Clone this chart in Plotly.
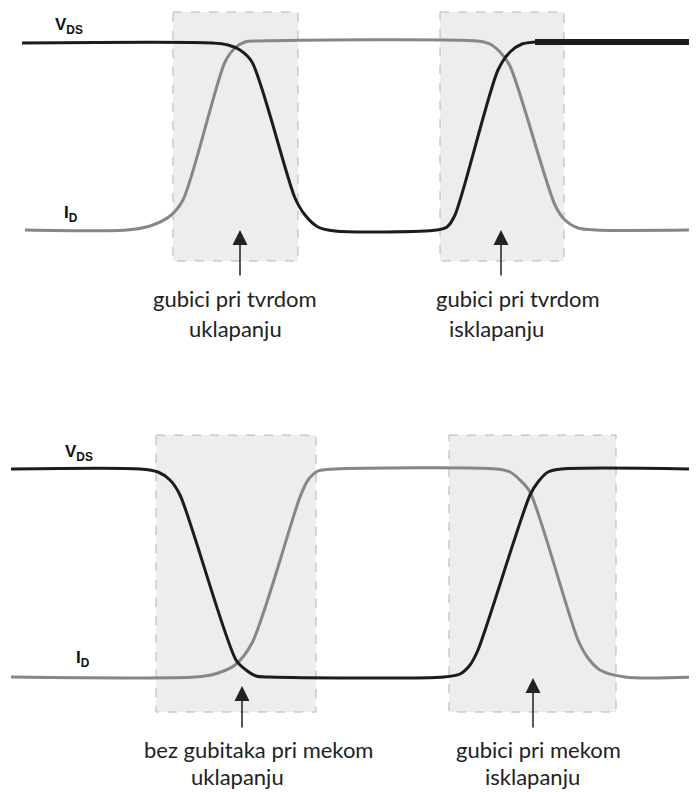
import plotly.graph_objects as go

# waveform key points (pixel-like coordinates, y grows downward)
top_vds_x = [22, 212, 228, 240, 252, 295, 305, 318, 335, 437, 447, 455, 498, 510, 522, 535]
top_vds_y = [43, 43, 45, 50, 62, 198, 215, 227, 231, 230, 227, 215, 70, 52, 44, 42]
top_vds_thick_x = [535, 697]
top_vds_thick_y = [42, 42]

top_id_x = [25, 127, 150, 170, 183, 225, 235, 245, 260, 477, 490, 500, 510, 555, 565, 578, 595, 697]
top_id_y = [230, 230, 226, 216, 200, 62, 48, 42, 41, 41, 44, 52, 66, 205, 220, 228, 230, 230]

bot_vds_x = [11, 140, 158, 170, 180, 236, 246, 256, 270, 444, 460, 470, 478, 530, 538, 548, 562, 697]
bot_vds_y = [469, 469, 472, 480, 495, 660, 670, 676, 677, 677, 674, 665, 650, 495, 482, 472, 469, 469]

bot_id_x = [11, 195, 215, 235, 252, 300, 308, 318, 335, 497, 510, 520, 530, 578, 588, 600, 625, 697]
bot_id_y = [677, 677, 674, 665, 643, 497, 480, 471, 469, 469, 472, 480, 492, 640, 658, 670, 677, 677]

# shaded loss windows: x0, x1, y0, y1
boxes = [(173, 298, 12, 261), (440, 564, 12, 261), (156, 316, 435, 712), (449, 616, 435, 712)]

# arrows: x, tip y, tail y
arrows = [(240, 230, 277), (501, 230, 277), (242, 686, 729), (533, 678, 729)]

# captions: x, y, text
captions = [
    (235, 298, "gubici pri tvrdom"), (235, 328, "uklapanju"),
    (518, 298, "gubici pri tvrdom"), (496, 328, "isklapanju"),
    (258, 749, "bez gubitaka pri mekom"), (237, 776, "uklapanju"),
    (538, 749, "gubici pri mekom"), (532, 776, "isklapanju"),
]

# signal labels: x, y, text
labels = [(69, 26, "<b>V<sub>DS</sub></b>"), (71, 214, "<b>I<sub>D</sub></b>"),
          (79, 453, "<b>V<sub>DS</sub></b>"), (83, 659, "<b>I<sub>D</sub></b>")]

black = "#1c1c1c"
gray = "#878787"

fig = go.Figure()

def wave(x, y, color, width=3):
    fig.add_trace(go.Scatter(x=x, y=y, mode="lines", hoverinfo="skip",
                             line=dict(color=color, width=width, shape="spline", smoothing=0.8)))

wave(top_id_x, top_id_y, gray)
wave(top_vds_x, top_vds_y, black)
wave(top_vds_thick_x, top_vds_thick_y, black, 6)
wave(bot_id_x, bot_id_y, gray)
wave(bot_vds_x, bot_vds_y, black)

for x0, x1, y0, y1 in boxes:
    fig.add_shape(type="rect", x0=x0, x1=x1, y0=y0, y1=y1, layer="below",
                  fillcolor="#ecedef", line=dict(color="#b4b4b4", width=1, dash="dash"))

for x, tip, tail in arrows:
    fig.add_annotation(x=x, y=tip, ax=x, ay=tail, axref="x", ayref="y", xref="x", yref="y",
                       text="", showarrow=True, arrowhead=2, arrowsize=2,
                       arrowwidth=1.5, arrowcolor="#222222", font=dict(size=12))

for x, y, t in captions:
    fig.add_annotation(x=x, y=y, text=t, showarrow=False,
                       font=dict(family="Lato", size=22, color="#222222"))

for x, y, t in labels:
    fig.add_annotation(x=x, y=y, text=t, showarrow=False,
                       font=dict(family="Liberation Sans", size=17, color="#111111"))

# page body has an 8px margin, so the figure is offset; trim and shift ranges
fig.update_layout(width=689, height=784, margin=dict(l=0, r=0, t=0, b=0),
                  plot_bgcolor="white", paper_bgcolor="white", showlegend=False)
fig.update_xaxes(range=[8, 697], visible=False)
fig.update_yaxes(range=[792, 8], visible=False)

fig.write_html("out.html")
